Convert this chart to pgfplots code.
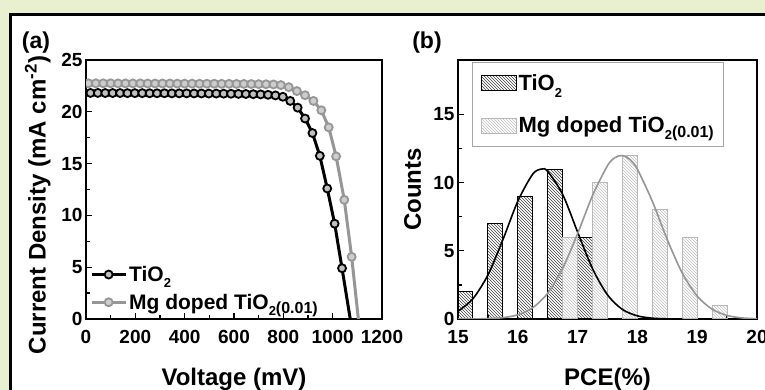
\documentclass[border=0pt]{standalone}
\usepackage{fontspec}
\setmainfont{Liberation Sans}
\usepackage{pgfplots}
\pgfplotsset{compat=1.18}
\usetikzlibrary{patterns}
\definecolor{bgw}{RGB}{232,240,208}
\definecolor{mgline}{RGB}{150,150,150}
\definecolor{mgfill}{RGB}{205,205,205}
\newcommand{\fs}[1]{\fontsize{#1}{#1}\selectfont}
\newcommand{\tio}{TiO\raisebox{-0.3em}{\fs{13}2}}
\newcommand{\tiomg}{TiO\raisebox{-0.3em}{\fs{13}2}\raisebox{-0.2em}{\fs{16}(0.01)}}
\pgfplotsset{
  common/.style={
    anchor=south west, scale only axis,
    axis line style={line width=1.6pt},
    tick align=inside, xtick pos=bottom, ytick pos=left,
    every tick/.style={line width=1.3pt, black},
    major tick length=6pt, minor tick length=3.5pt,
    minor x tick num=1, minor y tick num=1,
    /pgf/number format/assume math mode=true,
    /pgf/number format/1000 sep={},
    ticklabel style={font=\bfseries\fs{19}},
    xticklabel style={yshift=-8pt},
    label style={font=\bfseries\fs{24}},
    clip marker paths=true,
  },
  linelegend/.style={legend image code/.code={\draw[mark repeat=2,mark phase=2,##1] plot coordinates {(0pt,0pt) (17pt,0pt) (34pt,0pt)};}},
  barlegend/.style={legend image code/.code={\draw[##1] (0pt,-7.5pt) rectangle (35pt,7.5pt);}},
}
\begin{document}
\begin{tikzpicture}
\useasboundingbox (0,0) rectangle (765pt,390pt);
\fill[bgw] (0,0) rectangle (765pt,390pt);
\fill[white] (10pt,0) rectangle (765pt,375.5pt);
\draw[line width=2.5pt] (10.5pt,0) -- (10.5pt,375.5pt) -- (765pt,375.5pt);
\begin{axis}[common, at={(86pt,71pt)}, width=296pt, height=259pt,
  xmin=0, xmax=1200, ymin=0, ymax=25,
  xtick={0,200,...,1200}, ytick={0,5,...,25},
  xlabel={Voltage (mV)}, ylabel={Current Density (mA cm\textsuperscript{-2})},
  xlabel style={at={(axis description cs:0.5,-0.255)}, anchor=base},
  ylabel style={at={(axis description cs:-0.163,0.44)}, anchor=center},
  linelegend,
  legend style={at={(axis description cs:0.01,0.02)}, anchor=south west, draw=none, fill=none,
    font=\bfseries\fs{21}, row sep=7pt, inner sep=1pt},
  legend cell align=left]
\addplot[black, line width=3pt, mark=*, mark size=4pt,
  mark options={draw=black, fill=gray!50, line width=1.8pt, solid}] coordinates {
(18,21.82) (48,21.82) (78,21.81) (108,21.81) (138,21.81) (168,21.80) (198,21.80) (228,21.80)
(258,21.79) (288,21.79) (318,21.79) (348,21.78) (378,21.78) (408,21.78) (438,21.77) (468,21.77)
(498,21.76) (528,21.76) (558,21.75) (588,21.74) (618,21.73) (648,21.72) (678,21.70) (708,21.68)
(738,21.64) (768,21.58) (798,21.45) (828,21.05) (858,20.4) (888,19.35) (918,17.95) (948,15.75)
(978,12.6) (1008,9.2) (1038,4.9) (1078,-1.0)};
\addlegendentry{\tio}
\addplot[mgline, line width=3pt, mark=*, mark size=4pt,
  mark options={draw=mgline, fill=mgfill, line width=1.8pt, solid}] coordinates {
(10,22.75) (40,22.75) (70,22.75) (100,22.75) (130,22.74) (160,22.74) (190,22.74) (220,22.74)
(250,22.73) (280,22.73) (310,22.73) (340,22.73) (370,22.72) (400,22.72) (430,22.72) (460,22.71)
(490,22.71) (520,22.71) (550,22.70) (580,22.70) (610,22.69) (640,22.69) (670,22.68) (700,22.67)
(730,22.66) (760,22.64) (790,22.58) (822,22.38) (855,22.0) (888,21.6) (922,21.05) (954,20.15)
(984,18.5) (1014,15.7) (1047,11.5) (1077,6.0) (1110,-1.3)};
\addlegendentry{Mg doped \tiomg}
\end{axis}
\begin{axis}[common, at={(458pt,71pt)}, width=299pt, height=259pt,
  xmin=15, xmax=20, ymin=0, ymax=19,
  xtick={15,16,...,20}, ytick={0,5,10,15},
  xlabel={PCE(\%)}, ylabel={Counts},
  xlabel style={at={(axis description cs:0.5,-0.255)}, anchor=base},
  ylabel style={at={(axis description cs:-0.152,0.5)}, anchor=center},
  legend style={at={(axis description cs:0.047,0.992)}, anchor=north west, draw=gray!70, line width=1pt,
    font=\bfseries\fs{22}, row sep=21pt, inner xsep=8pt, inner ysep=10pt},
  legend cell align=left]
\addplot[ybar, bar width=0.25, bar shift=0pt, draw=black, line width=1pt,
  pattern=north west lines, pattern color=black!75, barlegend] coordinates {
(15.125,2) (15.625,7) (16.125,9) (16.625,11) (17.125,6)};
\addlegendentry{\tio}
\addplot[ybar, bar width=0.25, bar shift=0pt, draw=gray!55, line width=1pt,
  pattern=north west lines, pattern color=gray!50, barlegend] coordinates {
(16.875,6) (17.375,10) (17.875,12) (18.375,8) (18.875,6) (19.375,1)};
\addlegendentry{Mg doped \tiomg}
\addplot[forget plot, smooth, black, line width=1.6pt] coordinates {
(15,0.57) (15.25,1.49) (15.5,3.23) (15.75,5.81) (16,8.64) (16.25,10.63) (16.4,11.0) (16.5,10.83)
(16.75,9.14) (17,6.38) (17.25,3.69) (17.5,1.77) (17.75,0.70) (18,0.23) (18.25,0.06) (18.5,0.01) (18.75,0.0)};
\addplot[forget plot, smooth, mgline, line width=1.6pt] coordinates {
(15,0.001) (15.25,0.007) (15.5,0.028) (15.75,0.10) (16,0.31) (16.25,0.83) (16.5,1.89) (16.75,3.72)
(17,6.26) (17.25,9.06) (17.5,11.25) (17.625,11.84) (17.75,11.99) (17.875,11.70) (18,10.98)
(18.25,8.63) (18.5,5.82) (18.75,3.37) (19,1.68) (19.25,0.72) (19.5,0.26) (19.75,0.08) (20,0.02)};
\end{axis}
\node[font=\bfseries\fs{23}] at (36pt,347pt) {(a)};
\node[font=\bfseries\fs{23}] at (427pt,347pt) {(b)};
\end{tikzpicture}
\end{document}
